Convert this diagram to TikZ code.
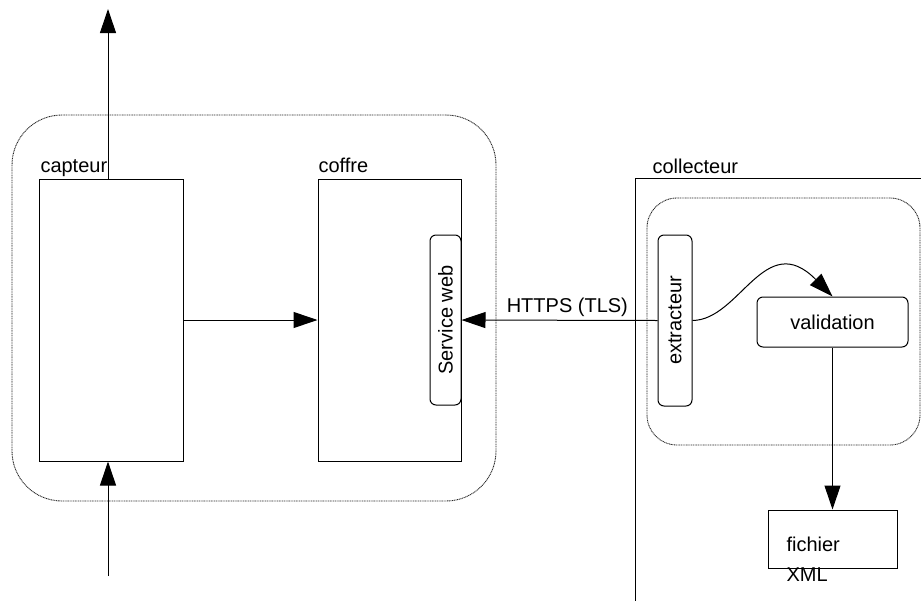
\documentclass[tikz,border=0pt]{standalone}
\usepackage{fontspec}
\setmainfont{Liberation Sans}
\usetikzlibrary{positioning, arrows.meta}

\begin{document}
\begin{tikzpicture}
        [x=1pt, y=-1pt,
         bloc/.style={draw, line width=1pt, inner sep=0pt},
         souple/.style={bloc, rounded corners=6pt},
         zone/.style={draw=black!85, line width=0.9pt, dash pattern=on 1pt off 0.7pt, inner sep=0pt},
         titre/.style={inner sep=0pt, anchor=base west},
         line width=1pt, >={Triangle[length=24pt, width=16pt]},
         font=\fontsize{20}{30}\selectfont]
        \useasboundingbox (0,0) rectangle (921,600);

        % zones en pointilles
        \node[zone, rounded corners=50pt, minimum width=484pt, minimum height=386pt] (site) at (254,308) {};
        \node[zone, rounded corners=30pt, minimum width=273pt, minimum height=247pt] (chaine) at (783.5,321.5) {};

        % blocs
        \node[bloc, minimum width=144pt, minimum height=282pt] (capteur) at (111,320) {};
        \node[bloc, minimum width=143pt, minimum height=282pt] (coffre) at (389.5,320) {};
        \node[souple, minimum width=31pt, minimum height=170pt] (web) at (445.5,320) {};
        \node[rotate=90] (webtxt) at (web.center) {Service web};
        \node[inner sep=0pt, minimum width=285pt, minimum height=421pt] (collecteur) at (778.5,389.5) {};
        \node[souple, minimum width=34pt, minimum height=171pt] (extracteur) at (675,320.5) {};
        \node[rotate=90] (extrtxt) at (extracteur.center) {extracteur};
        \node[souple, minimum width=151pt, minimum height=50pt] (validation) at (832.5,322) {validation};
        \node[bloc, minimum width=129pt, minimum height=58pt] (fichier) at (832.5,539) {};
        \node[titre, align=left, anchor=north west] (fichiertxt) at (786,536) {fichier\\XML};

        % titres
        \node[titre] (capteurlbl) at (40,172) {capteur};
        \node[titre] (coffrelbl) at (318,172) {coffre};
        \node[titre] (collecteurlbl) at (652,173) {collecteur};

        \draw (collecteur.south west) -- (collecteur.north west) -- (collecteur.north east);

        % fleches
        \coordinate (sortie) at (108,9);
        \coordinate (entree) at (108,576);
        \draw[->] (sortie |- capteur.north) -- (sortie);
        \draw[->] (entree) -- (entree |- capteur.south);
        \draw[->] (capteur) -- (coffre);
        \draw[->] (extracteur.west) -- node[pos=0.46, above, inner sep=3pt] (https) {HTTPS (TLS)} (web.east);
        \draw[->] (extracteur.east) .. controls (740,320) and (765,228) .. (validation.north);
        \draw[->] (validation) -- (fichier);
    \end{tikzpicture}
\end{document}
